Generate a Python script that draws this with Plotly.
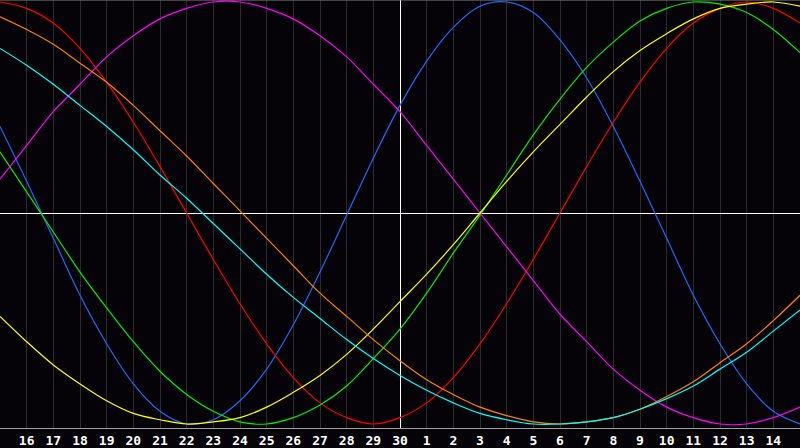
import plotly.graph_objects as go

# day index across the window (0 = left edge, 30 = right edge)
days = list(range(31))
tick_days = list(range(1, 30))
tick_labels = ["16", "17", "18", "19", "20", "21", "22", "23", "24", "25", "26", "27", "28", "29", "30",
               "1", "2", "3", "4", "5", "6", "7", "8", "9", "10", "11", "12", "13", "14"]

# values in percent (-100..100) at each day
physical = [41, 15, -12, -39, -62, -81, -94, -100, -98, -89, -74, -53, -28, -1, 26, 51,
            72, 88, 98, 100, 95, 82, 64, 41, 15, -12, -39, -62, -81, -94, -100]
emotional = [100, 97, 90, 78, 62, 43, 22, 0, -22, -43, -62, -78, -90, -97, -100, -97,
             -90, -78, -62, -43, -22, 0, 22, 43, 62, 78, 90, 97, 100, 97, 90]
intellectual = [29, 10, -9, -28, -45, -61, -75, -86, -94, -99, -100, -97, -91, -82, -69, -55,
                -38, -19, -1, 18, 37, 54, 69, 81, 91, 97, 100, 99, 95, 87, 76]
intuitive = [16, 32, 48, 61, 74, 84, 92, 97, 100, 100, 97, 92, 84, 74, 61, 48,
             32, 16, 0, -16, -32, -48, -61, -74, -84, -92, -97, -100, -100, -97, -92]
aesthetic = [-49, -61, -72, -81, -89, -95, -98, -100, -99, -97, -92, -85, -77, -67, -55, -42,
             -29, -15, 0, 15, 29, 42, 55, 67, 77, 85, 92, 97, 99, 100, 98]
awareness = [93, 87, 80, 71, 62, 51, 39, 27, 14, 1, -12, -25, -38, -49, -60, -70,
             -79, -86, -92, -96, -99, -100, -99, -97, -93, -87, -80, -71, -62, -51, -39]
spiritual = [78, 70, 61, 51, 41, 30, 18, 7, -5, -17, -29, -40, -50, -60, -69, -77,
             -84, -90, -95, -98, -100, -100, -99, -97, -93, -88, -82, -74, -66, -56, -46]

today = 15

series = [
    ("Physical", physical, "#1a6cff"),
    ("Emotional", emotional, "#ff0000"),
    ("Intellectual", intellectual, "#00ee00"),
    ("Intuitive", intuitive, "#ff00ff"),
    ("Aesthetic", aesthetic, "#ffff00"),
    ("Awareness", awareness, "#ff8000"),
    ("Spiritual", spiritual, "#00ffff"),
]

fig = go.Figure()
# invisible trace on the overlay axis that carries the "today" line
fig.add_trace(go.Scatter(x=[today], y=[0], xaxis="x2", mode="markers",
                         marker=dict(opacity=0), hoverinfo="skip", showlegend=False))
for name, vals, col in series:
    fig.add_trace(go.Scatter(x=days, y=vals, name=name, mode="lines",
                             line=dict(color=col, width=1.2, shape="spline", smoothing=1.0),
                             hoverinfo="skip"))

bg = "#050308"
fig.update_layout(
    width=800, height=448,
    margin=dict(l=0, r=0, t=0, b=20, pad=0),
    paper_bgcolor=bg, plot_bgcolor=bg,
    showlegend=False,
    xaxis=dict(range=[0, 30], tickvals=tick_days, ticktext=tick_labels,
               showgrid=True, gridcolor="#2c2c2c", gridwidth=1,
               zeroline=False, ticks="", showline=True, linecolor="#a0a0a0", linewidth=1,
               tickfont=dict(family="DejaVu Sans Mono", size=13, color="white", weight="bold"),
               fixedrange=True),
    xaxis2=dict(range=[0, 30], overlaying="x", tickvals=[today], showticklabels=False,
                showgrid=True, gridcolor="#ffffff", gridwidth=1, zeroline=False,
                ticks="", showline=False, fixedrange=True, layer="above traces"),
    yaxis=dict(range=[-101.9, 100.95], showgrid=False, zeroline=True,
               zerolinecolor="#ffffff", zerolinewidth=1,
               showticklabels=False, ticks="", showline=True, linecolor="#808080",
               linewidth=1, mirror=False, fixedrange=True),
)
fig.add_shape(type="line", xref="paper", yref="paper", x0=0, x1=1, y0=1, y1=1,
              line=dict(color="#808080", width=1))

fig.write_html("out.html", config={"displayModeBar": False},
               post_script="document.body.style.margin='0';document.body.style.overflow='hidden';"
                           "document.body.style.background='" + bg + "';")
